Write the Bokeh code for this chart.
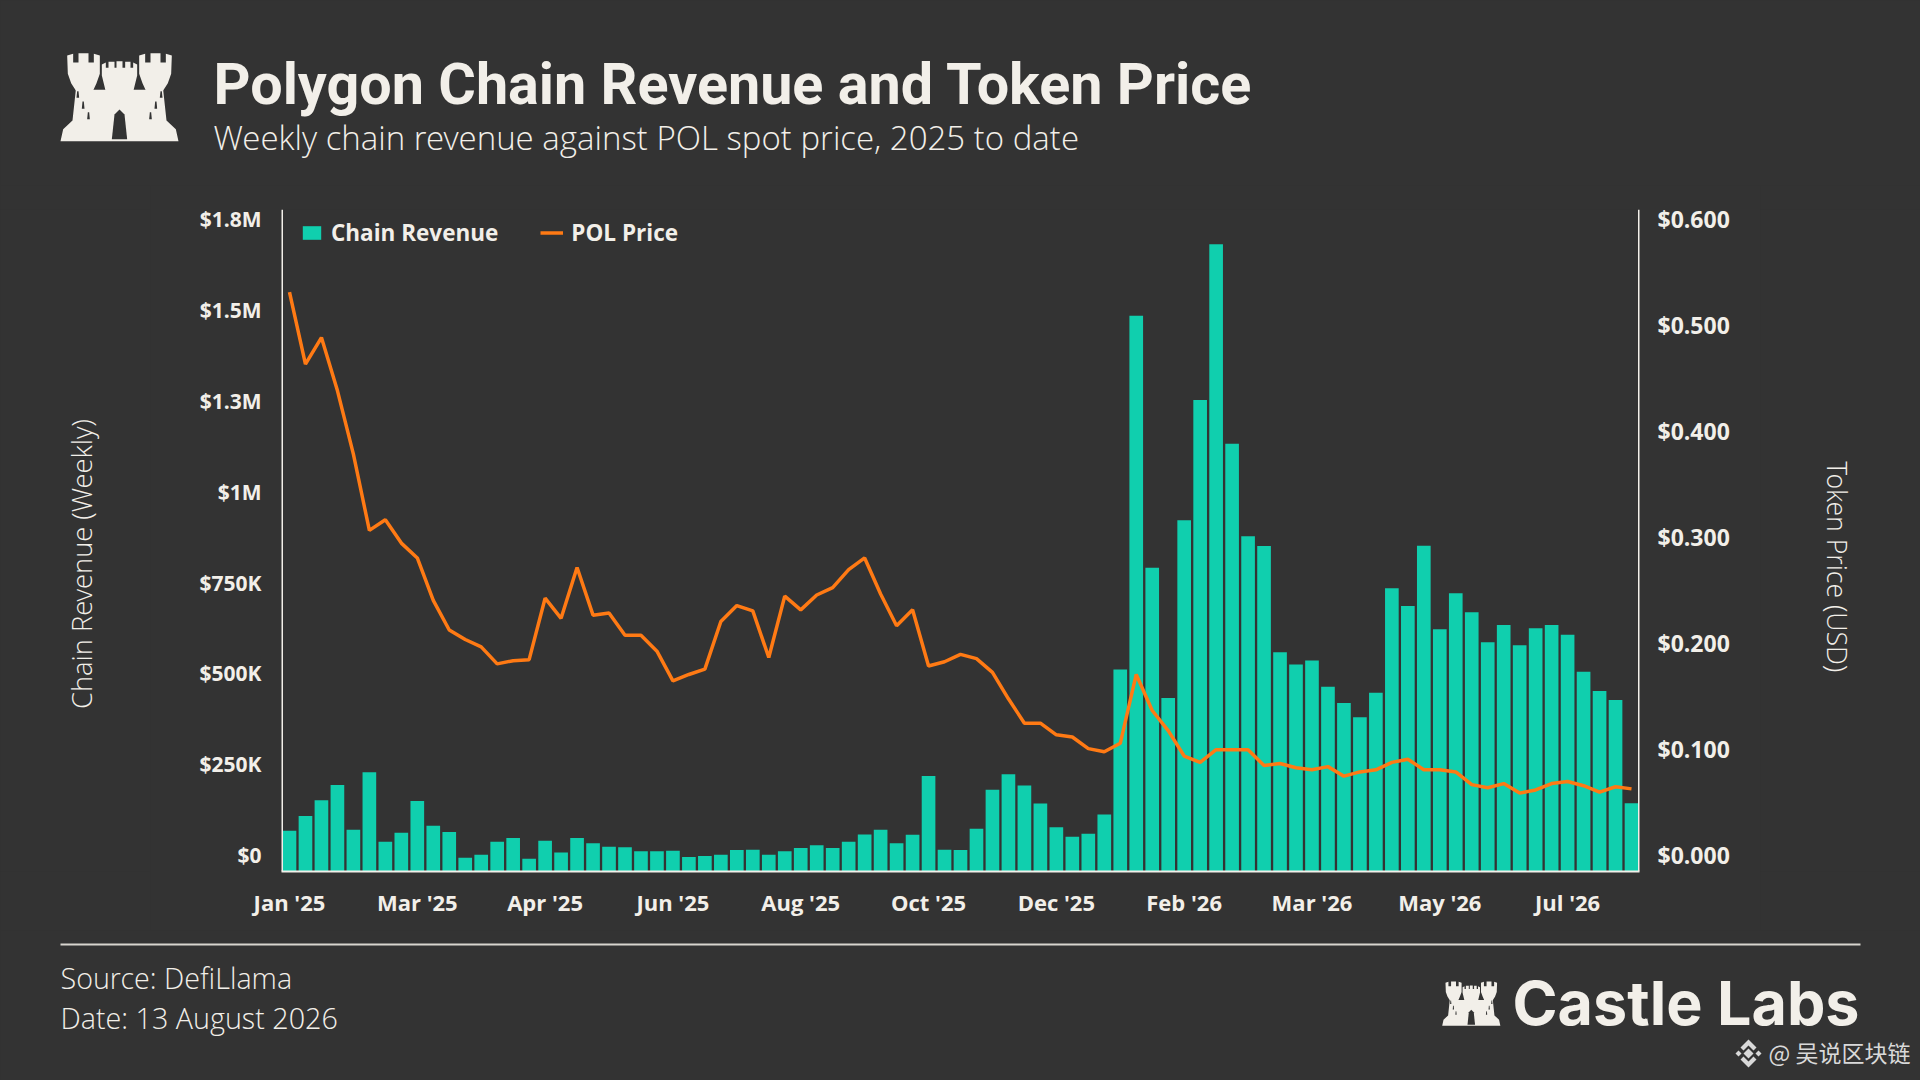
from bokeh.embed import file_html
from bokeh.resources import INLINE
from bokeh.plotting import figure
from bokeh.layouts import column, row
from bokeh.core.properties import value
from bokeh.models import (Range1d, LinearAxis, FixedTicker, Span, Legend, LegendItem, ColumnDataSource)

# ---- data ----
revenue_k = [112,153,196,238,115,273,82,107,194,126,109,38,46,82,92,35,85,52,92,78,68,67,56,56,57,40,43,46,59,60,
             46,56,65,72,65,82,102,115,78,101,263,60,59,118,225,268,237,187,122,96,104,157,556,1530,836,478,967,
             1298,1727,1178,923,896,604,570,581,509,464,425,492,780,731,897,667,766,714,631,679,623,670,679,652,
             550,497,472,188]
pol_price = [0.547,0.479,0.504,0.454,0.394,0.322,0.332,0.310,0.296,0.256,0.228,0.219,0.212,0.196,0.199,0.200,
             0.258,0.239,0.287,0.242,0.244,0.223,0.223,0.208,0.180,0.186,0.191,0.236,0.251,0.246,0.202,0.260,
             0.247,0.261,0.268,0.285,0.296,0.262,0.232,0.247,0.194,0.198,0.205,0.201,0.188,0.163,0.140,0.140,
             0.129,0.127,0.116,0.113,0.121,0.186,0.152,0.133,0.109,0.103,0.115,0.115,0.115,0.100,0.102,0.098,
             0.096,0.099,0.090,0.094,0.096,0.103,0.106,0.096,0.096,0.094,0.082,0.079,0.083,0.074,0.077,0.083,
             0.085,0.081,0.075,0.080,0.078]
x_tick_labels = ["Jan '25","Mar '25","Apr '25","Jun '25","Aug '25","Oct '25","Dec '25","Feb '26","Mar '26","May '26","Jul '26"]
rev_ticks = [0,250000,500000,750000,1000000,1250000,1500000,1750000]
rev_tick_labels = ["$0","$250K","$500K","$750K","$1M","$1.3M","$1.5M","$1.8M"]
price_ticks = [0,0.1,0.2,0.3,0.4,0.5,0.6]
price_tick_labels = ["$0.000","$0.100","$0.200","$0.300","$0.400","$0.500","$0.600"]

BG = "#333333"; CREAM = "#f2efe9"; TEAL = "#10cfae"; ORANGE = "#ff7a14"

PAGE_W, PAGE_H = 1920, 1080
FRAME_L, FRAME_T, FRAME_R, FRAME_B = 281, 209, 1639, 871
MAIN_L, MAIN_T, MAIN_R, MAIN_B = 150, 185, 1760, 930
TICK_SPAN_PX = 635.6          # pixels from 0 to the top tick on both scales
LABEL_SHIFT_PX = 16.5         # tick labels sit this far above their gridline
FRAME_H = FRAME_B - FRAME_T

rev_max = rev_ticks[-1] * FRAME_H / TICK_SPAN_PX
price_max = price_ticks[-1] * FRAME_H / TICK_SPAN_PX
rev_shift = rev_ticks[-1] * LABEL_SHIFT_PX / TICK_SPAN_PX
price_shift = price_ticks[-1] * LABEL_SHIFT_PX / TICK_SPAN_PX

n = len(revenue_k)
src = ColumnDataSource(dict(i=list(range(n)), rev=[v * 1000 for v in revenue_k], price=pol_price))

p = figure(width=MAIN_R - MAIN_L, height=MAIN_B - MAIN_T, output_backend="svg", toolbar_location=None,
           x_range=Range1d(-0.5, n - 0.5), y_range=Range1d(0, rev_max),
           min_border_left=FRAME_L - MAIN_L, min_border_right=MAIN_R - FRAME_R,
           min_border_top=FRAME_T - MAIN_T, min_border_bottom=MAIN_B - FRAME_B,
           background_fill_color=BG, border_fill_color=BG, outline_line_color=None,
           y_axis_location=None)
p.grid.visible = False
p.extra_y_ranges = {
    "price": Range1d(0, price_max),
    "rev_lbl": Range1d(-rev_shift, rev_max - rev_shift),
    "price_lbl": Range1d(-price_shift, price_max - price_shift),
}

TICK_FONT = "Open Sans"
def style_axis(ax, size=21):
    ax.major_tick_line_color = None
    ax.minor_tick_line_color = None
    ax.major_label_text_color = CREAM
    ax.major_label_text_font = TICK_FONT
    ax.major_label_text_font_style = "bold"
    ax.major_label_text_font_size = f"{size}px"

xa = p.xaxis[0]
xa.ticker = FixedTicker(ticks=[8 * k for k in range(len(x_tick_labels))])
xa.major_label_overrides = {8 * k: t for k, t in enumerate(x_tick_labels)}
style_axis(xa, 22)
xa.axis_line_color = CREAM
xa.axis_line_width = 2
xa.major_label_standoff = 9

la = LinearAxis(y_range_name="rev_lbl", ticker=FixedTicker(ticks=rev_ticks),
                major_label_overrides=dict(zip(rev_ticks, rev_tick_labels)))
style_axis(la); la.axis_line_color = None; la.major_label_standoff = 14
p.add_layout(la, "left")
ra = LinearAxis(y_range_name="price_lbl", ticker=FixedTicker(ticks=price_ticks),
                major_label_overrides=dict(zip(price_ticks, price_tick_labels)))
style_axis(ra, 23); ra.axis_line_color = None; ra.major_label_standoff = 12
p.add_layout(ra, "right")

bars = p.vbar(x="i", top="rev", width=0.855, source=src, fill_color=TEAL, line_color=None)
line = p.line(x="i", y="price", source=src, y_range_name="price", line_color=ORANGE, line_width=3.5)

for loc in (-0.5, n - 0.5):
    p.add_layout(Span(location=loc, dimension="height", line_color=CREAM, line_width=3))

legend = Legend(items=[LegendItem(label="Chain Revenue", renderers=[bars]),
                       LegendItem(label="POL Price", renderers=[line])],
                orientation="horizontal", location=(19, 623), margin=0,
                background_fill_alpha=0, border_line_color=None,
                label_text_color=CREAM, label_text_font=TICK_FONT, label_text_font_style="bold",
                label_text_font_size="22.5px", glyph_width=23, glyph_height=17,
                label_standoff=8, spacing=42, padding=8)
p.add_layout(legend, "center")

# ---- decorative panels, drawn in page pixels ----
def panel(x0, x1, y0, y1):
    return figure(width=x1 - x0, height=y1 - y0, output_backend="svg", toolbar_location=None,
                  x_range=Range1d(x0, x1), y_range=Range1d(y1, y0), x_axis_location=None, y_axis_location=None,
                  min_border=0, background_fill_color=BG, border_fill_color=BG, outline_line_color=None)

header = panel(0, PAGE_W, 0, MAIN_T)
footer = panel(0, PAGE_W, MAIN_B, PAGE_H)
left = panel(0, MAIN_L, MAIN_T, MAIN_B)
right = panel(MAIN_R, PAGE_W, MAIN_T, MAIN_B)
for f in (header, footer, left, right):
    f.grid.visible = False

LIGHT = "Open Sans Light"
BASELINE_FIX = 0.38     # alphabetic text glyphs land this fraction of their size too low
ROTATED_FIX = 21

def text(f, t, x, y, size, font=LIGHT, style="normal", color=CREAM, angle=0, align="left", baseline="alphabetic"):
    if baseline == "alphabetic":
        y = y - BASELINE_FIX * size
    if angle:
        y = y + ROTATED_FIX
    f.text(x=[x], y=[y], text=[t], text_font=value(font), text_font_style=style, text_font_size=f"{size}px",
           text_color=color, angle=angle, angle_units="deg", text_align=align, text_baseline=baseline)

def poly(f, points, color, x0=0, y0=0, kx=1, ky=1):
    f.patch([x0 + kx * a for a, _ in points], [y0 + ky * b for _, b in points], fill_color=color, line_color=None)

LEFT_TOWER = [(50,45),(68,40),(68,66),(84,66),(84,38),(114,38),(114,66),(130,66),(130,40),(148,45),(148,100),
              (138,128),(128,150),(76,150),(62,128),(52,100)]
CENTRE = [(154,72),(166,66),(166,82),(174,82),(174,64),(192,64),(192,82),(198,82),(198,62),(216,62),(216,82),
          (224,82),(224,64),(240,64),(240,82),(248,82),(248,66),(260,72),(260,105),(249,150),(165,150),(154,105)]
BASE = [(30,302),(38,266),(66,240),(76,148),(338,148),(348,240),(376,266),(384,302)]
DOOR = [(184,296),(192,222),(207,207),(222,222),(230,296)]
SLITS = [[(78,172),(80,152),(84,152),(86,172)],[(94,205),(96,183),(100,183),(102,205)],[(110,236),(112,215),(116,215),(118,236)]]

def castle(f, x0, y0, kx, ky):
    poly(f, BASE, CREAM, x0, y0, kx, ky)
    poly(f, LEFT_TOWER, CREAM, x0, y0, kx, ky)
    poly(f, [(414 - a, b) for a, b in LEFT_TOWER], CREAM, x0, y0, kx, ky)
    poly(f, CENTRE, CREAM, x0, y0, kx, ky)
    poly(f, DOOR, BG, x0, y0, kx, ky)
    for s in SLITS:
        poly(f, s, BG, x0, y0, kx, ky)
        poly(f, [(414 - a, b) for a, b in s], BG, x0, y0, kx, ky)

castle(header, 50, 40, 1/3, 1/3)
castle(footer, 1441.7 - 30 * 0.1643, 981 - 38 * 0.1677, 0.1643, 0.1677)

text(header, "Polygon Chain Revenue and Token Price", 213, 105.5, 57.5, font="Roboto", style="bold")
text(header, "Weekly chain revenue against POL spot price, 2025 to date", 213, 150, 33)

text(left, "Chain Revenue (Weekly)", 81, 563, 27.3, angle=90, align="center", baseline="middle")
text(right, "Token Price (USD)", 1837, 566, 26.7, angle=-90, align="center", baseline="middle")

poly(footer, [(60, 943), (1860, 943), (1860, 945), (60, 945)], "#d8d5cf")
text(footer, "Source: DefiLlama", 60, 988, 28.7)
text(footer, "Date: 13 August 2026", 60, 1028, 28.7)
text(footer, "Castle Labs", 1512, 1026, 61, font="Inter", style="bold")

W = "#d9d9d9"
poly(footer, [(1748,1048),(1753,1053),(1748,1058),(1743,1053)], W)
poly(footer, [(1738,1050),(1741,1053),(1738,1056),(1735,1053)], W)
poly(footer, [(1758,1050),(1761,1053),(1758,1056),(1755,1053)], W)
poly(footer, [(1748,1039),(1756,1047),(1753,1050),(1748,1045),(1743,1050),(1740,1047)], W)
poly(footer, [(1748,1067),(1756,1059),(1753,1056),(1748,1061),(1743,1056),(1740,1059)], W)
text(footer, "@ 吴说区块链", 1768, 1051, 23, font="Noto Sans CJK SC", color=W, baseline="middle")

page = column(header, row(left, p, right), footer)
html = file_html(page, INLINE)
html = html.replace("<head>", "<head><style>html,body{background:#333333;}</style>", 1)
open("out.html", "w").write(html)
